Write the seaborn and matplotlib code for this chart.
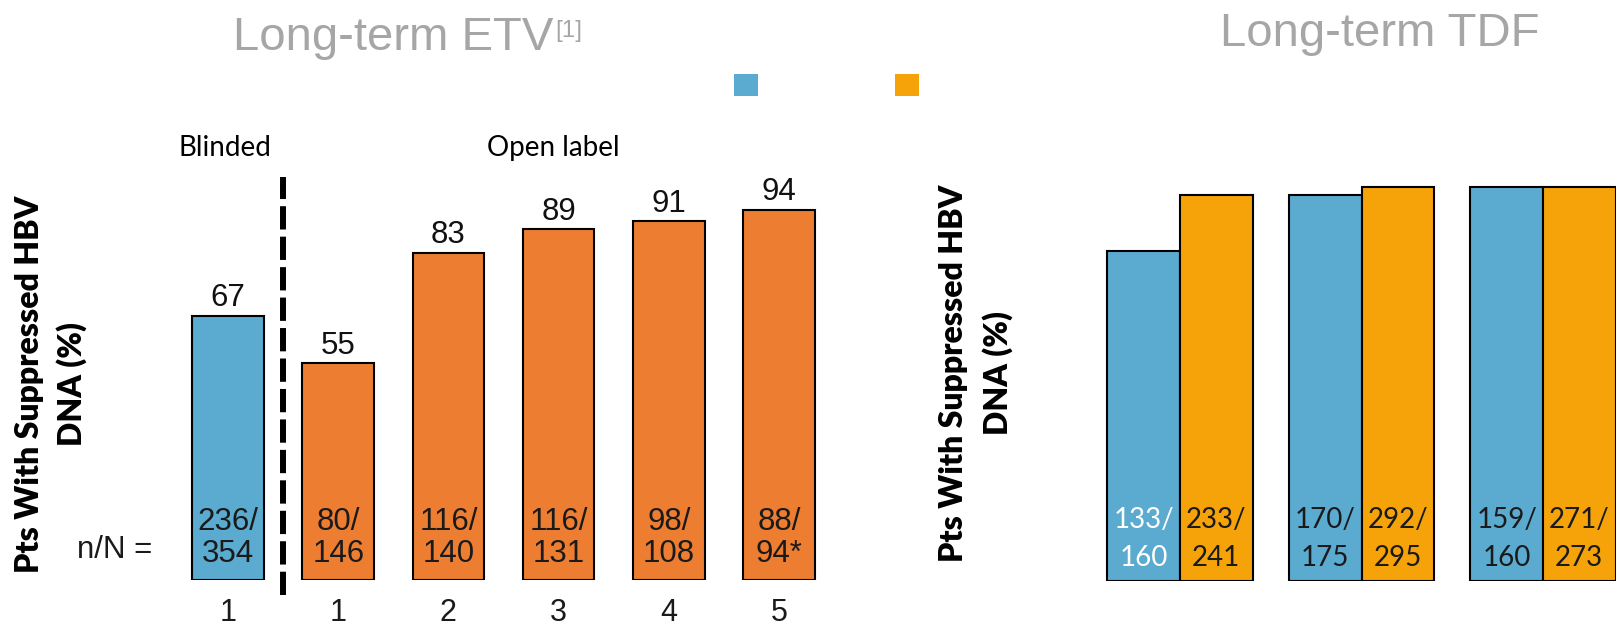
import matplotlib
matplotlib.use("Agg")
import matplotlib.pyplot as plt
import seaborn as sns
import pandas as pd
import numpy as np
from matplotlib.patches import Patch

# ---------------- data ----------------
etv_categories = ["Blinded Yr 1", "Open-label Yr 1", "Yr 2", "Yr 3", "Yr 4", "Yr 5"]
etv_tick_labels = ["1", "1", "2", "3", "4", "5"]
etv_phase = ["Blinded", "Open label", "Open label", "Open label", "Open label", "Open label"]
etv_pct = [67, 55, 83, 89, 91, 94]
etv_num = ["236/", "80/", "116/", "116/", "98/", "88/"]
etv_den = ["354", "146", "140", "131", "108", "94*"]

tdf_timepoints = ["Time 1", "Time 2", "Time 3"]
tdf_arms = ["Arm A", "Arm B"]
tdf_pct_a = [83, 97, 99]
tdf_pct_b = [97, 99, 99]
tdf_num_a = ["133/", "170/", "159/"]
tdf_den_a = ["160", "175", "160"]
tdf_num_b = ["233/", "292/", "271/"]
tdf_den_b = ["241", "295", "273"]

ylabel_lines = ["Pts With Suppressed HBV", "DNA (%)"]

# ---------------- style ----------------
BLUE = "#5BAACF"
ETV_ORANGE = "#ED7D31"
TDF_ORANGE = "#F5A309"
GRAY = "#A6A6A6"
ARIAL = "Liberation Sans"
CALIBRI = "Lato"

sns.set_theme(style="white")
plt.rcParams["font.family"] = [ARIAL, "DejaVu Sans"]

W, H = 1616, 626
fig = plt.figure(figsize=(W / 100, H / 100), dpi=100)


def fig_box(x0, y0, x1, y1):
    return [x0 / W, 1 - y1 / H, (x1 - x0) / W, (y1 - y0) / H]


def fpos(x, y):
    return (x / W, 1 - y / H)


# ---------------- left panel (ETV) ----------------
ax1 = fig.add_axes(fig_box(150, 186, 850, 580))
df1 = pd.DataFrame({"period": etv_categories, "pct": etv_pct, "phase": etv_phase})
sns.barplot(data=df1, x="period", y="pct", hue="phase", order=etv_categories,
            palette={"Blinded": BLUE, "Open label": ETV_ORANGE}, dodge=False,
            width=0.65, edgecolor="black", linewidth=1.5, saturation=1,
            legend=False, ax=ax1)
step1 = 110.2
ax1.set_xlim((150 - 228) / step1, (850 - 228) / step1)
ax1.set_ylim(0, 100)
ax1.set_xlabel("")
ax1.set_ylabel("")
ax1.set_yticks([])
ax1.set_xticks(range(len(etv_tick_labels)))
ax1.set_xticklabels(etv_tick_labels, fontsize=22, family=ARIAL, color="#1A1A1A")
ax1.tick_params(axis="x", length=0, pad=13)
sns.despine(ax=ax1, left=True, bottom=True)
ax1.patch.set_alpha(0)

for c in ax1.containers:
    labels = ["" if np.isnan(v) else f"{v:.0f}" for v in c.datavalues]
    ax1.bar_label(c, labels=labels, padding=2, fontsize=22.5, family=ARIAL, color="#111111")

bars1 = sorted([p for p in ax1.patches if not np.isnan(p.get_height()) and p.get_height() > 0],
               key=lambda p: p.get_x())
for i, p in enumerate(bars1):
    cx = p.get_x() + p.get_width() / 2
    ax1.text(cx, 14.6, etv_num[i], ha="center", va="center", fontsize=22.5, family=ARIAL, color="#1A1A1A")
    ax1.text(cx, 6.6, etv_den[i], ha="center", va="center", fontsize=22.5, family=ARIAL, color="#1A1A1A")

ax1.axvline(0.5, ymin=-0.038, ymax=1.023, color="black", lw=4.3,
            linestyle=(0, (3.9, 1.2)), clip_on=False)

fig.text(*fpos(115, 550), "n/N =", ha="center", va="center", fontsize=22.5, family=ARIAL, color="#1A1A1A")
fig.text(*fpos(225, 148), "Blinded", ha="center", va="center", fontsize=20, family=CALIBRI, color="black")
fig.text(*fpos(553, 148), "Open label", ha="center", va="center", fontsize=20, family=CALIBRI, color="black")

# ---------------- right panel (TDF) ----------------
ax2 = fig.add_axes(fig_box(1040, 183, 1616, 581))
df2 = pd.DataFrame({
    "timepoint": tdf_timepoints * 2,
    "arm": [tdf_arms[0]] * 3 + [tdf_arms[1]] * 3,
    "pct": tdf_pct_a + tdf_pct_b,
})
sns.barplot(data=df2, x="timepoint", y="pct", hue="arm", order=tdf_timepoints,
            hue_order=tdf_arms, palette=[BLUE, TDF_ORANGE], width=0.8,
            edgecolor="black", linewidth=1.5, saturation=1, legend=False, ax=ax2)
step2 = 181.5
ax2.set_xlim((1040 - 1180) / step2, (1616 - 1180) / step2)
ax2.set_ylim(0, 100)
ax2.set_xlabel("")
ax2.set_ylabel("")
ax2.set_yticks([])
ax2.tick_params(axis="x", length=0, labelbottom=False)
sns.despine(ax=ax2, left=True, bottom=True)
ax2.patch.set_alpha(0)

text_colors = [["white", "#1A1A1A", "#1A1A1A"], ["#1A1A1A", "#1A1A1A", "#1A1A1A"]]
nums = [tdf_num_a, tdf_num_b]
dens = [tdf_den_a, tdf_den_b]
for j, c in enumerate(ax2.containers):
    for i, p in enumerate(c.patches):
        cx = p.get_x() + p.get_width() / 2
        ax2.text(cx, 15.3, nums[j][i], ha="center", va="center", fontsize=20,
                 family=CALIBRI, color=text_colors[j][i])
        ax2.text(cx, 5.8, dens[j][i], ha="center", va="center", fontsize=20,
                 family=CALIBRI, color=text_colors[j][i])

# ---------------- y labels (two centred lines each) ----------------
for (x1, x2, yc) in [(30, 72, 384), (954, 998, 373)]:
    fig.text(*fpos(x1, yc), ylabel_lines[0], rotation=90, ha="center", va="center",
             fontsize=23, fontweight="heavy", family=CALIBRI, color="black")
    fig.text(*fpos(x2, yc), ylabel_lines[1], rotation=90, ha="center", va="center",
             fontsize=23, fontweight="heavy", family=CALIBRI, color="black")

# ---------------- titles ----------------
t1 = fig.text(*fpos(393, 50), "Long-term ETV", ha="center", va="baseline",
              fontsize=34, color=GRAY, family=ARIAL)
fig.text(*fpos(1380, 46), "Long-term TDF", ha="center", va="baseline",
         fontsize=34, color=GRAY, family=ARIAL)
fig.canvas.draw()
bb = t1.get_window_extent()
fig.text((bb.x1 + 2) / W, 1 - 37 / H, "[1]", ha="left", va="baseline",
         fontsize=17.5, color=GRAY, family=ARIAL)

# ---------------- legend ----------------
fig.legend(handles=[Patch(facecolor=BLUE, edgecolor="none"),
                    Patch(facecolor=TDF_ORANGE, edgecolor="none")],
           labels=["", ""], ncol=2, frameon=False, handlelength=1, handleheight=1,
           fontsize=17.3, handletextpad=0, columnspacing=5.7,
           loc="upper left", bbox_to_anchor=fpos(734, 74), borderaxespad=0, borderpad=0)

fig.savefig("out.png", dpi=100)
